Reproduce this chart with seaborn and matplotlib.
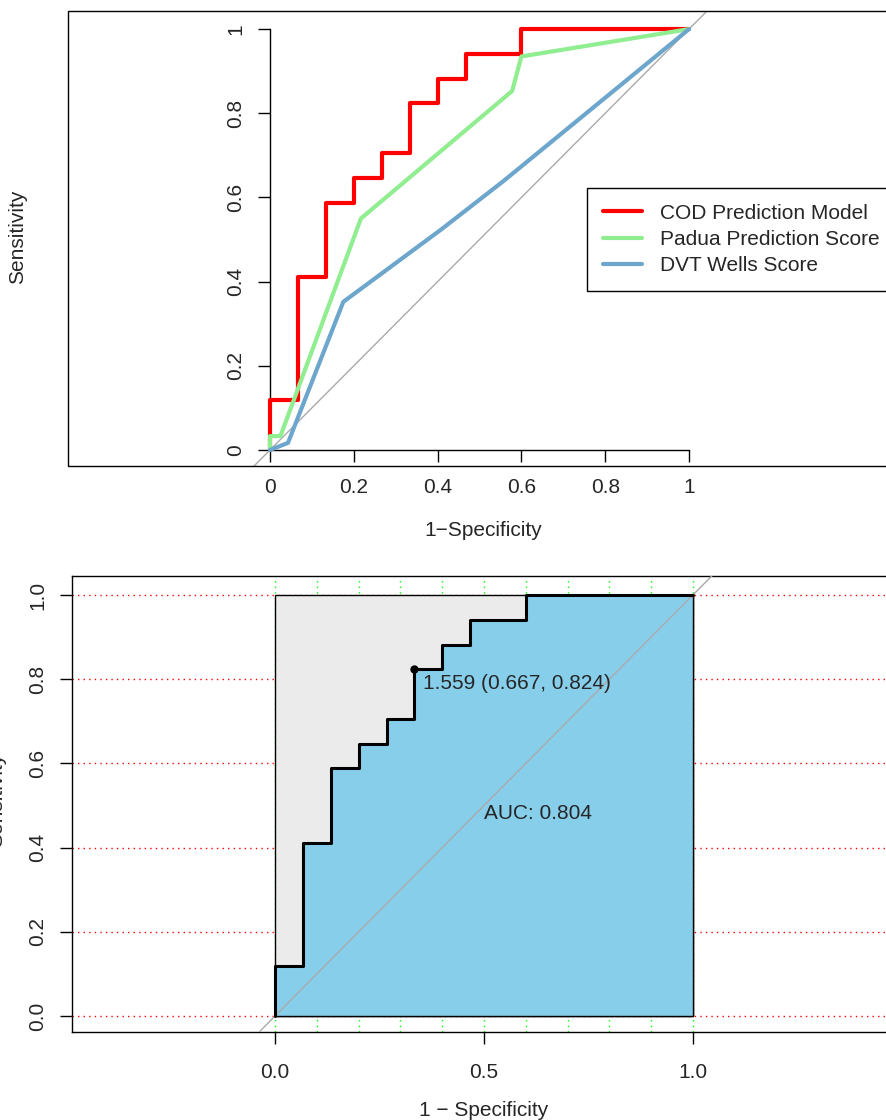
import numpy as np
import pandas as pd
import matplotlib
matplotlib.use("Agg")
import matplotlib.pyplot as plt
from matplotlib.patches import Rectangle
import seaborn as sns

# ROC coordinates: (1 - specificity, sensitivity)
cod_fpr = [0, 0, 0.067, 0.067, 0.133, 0.133, 0.2, 0.2, 0.267, 0.267, 0.333, 0.333,
           0.4, 0.4, 0.467, 0.467, 0.6, 0.6, 1]
cod_tpr = [0, 0.118, 0.118, 0.412, 0.412, 0.588, 0.588, 0.647, 0.647, 0.706, 0.706,
           0.824, 0.824, 0.882, 0.882, 0.941, 0.941, 1, 1]
padua_fpr = [0, 0, 0.025, 0.217, 0.578, 0.6, 1]
padua_tpr = [0, 0.033, 0.033, 0.55, 0.853, 0.935, 1]
wells_fpr = [0, 0.043, 0.175, 0.41, 0.556, 1]
wells_tpr = [0, 0.017, 0.352, 0.525, 0.638, 1]

models = ["COD Prediction Model", "Padua Prediction Score", "DVT Wells Score"]
colors = ["#FF0000", "#90EE90", "#6CA6CD"]

thr_x, thr_y = 0.333, 0.824
thr_label = "1.559 (0.667, 0.824)"
auc_label = "AUC: 0.804"

top_ticks = [0, 0.2, 0.4, 0.6, 0.8, 1]
top_ticklabels = ["0", "0.2", "0.4", "0.6", "0.8", "1"]
bot_yticks = [0, 0.2, 0.4, 0.6, 0.8, 1.0]
bot_yticklabels = ["0.0", "0.2", "0.4", "0.6", "0.8", "1.0"]
bot_xticks = [0, 0.5, 1.0]
bot_xticklabels = ["0.0", "0.5", "1.0"]
grid_h = [0, 0.2, 0.4, 0.6, 0.8, 1.0]
grid_v = [0, 0.1, 0.2, 0.3, 0.4, 0.5, 0.6, 0.7, 0.8, 0.9, 1.0]

df = pd.concat([
    pd.DataFrame({"fpr": cod_fpr, "tpr": cod_tpr, "model": models[0]}),
    pd.DataFrame({"fpr": padua_fpr, "tpr": padua_tpr, "model": models[1]}),
    pd.DataFrame({"fpr": wells_fpr, "tpr": wells_tpr, "model": models[2]}),
], ignore_index=True)

sns.set_theme(style="white")
plt.rcParams['font.family'] = ['Liberation Sans', 'DejaVu Sans']
FS = 15

W, H = 886, 1120
fig = plt.figure(figsize=(W / 100, H / 100), dpi=100)


def px_axes(l, t, r, b):
    return fig.add_axes([l / W, 1 - b / H, (r - l) / W, (b - t) / H])


# ---------- top: three ROC curves ----------
ax1 = px_axes(68, 11, 891, 466)
ax1.set_xlim(-0.482, 1.482)
ax1.set_ylim(-0.038, 1.043)
ax1.plot([-0.1, 1.1], [-0.1, 1.1], color="#AAAAAA", lw=1, zorder=1)
sns.lineplot(data=df, x="fpr", y="tpr", hue="model", palette=colors,
             hue_order=models, sort=False, estimator=None, lw=3, ax=ax1, zorder=3)
for s in ["top", "right"]:
    ax1.spines[s].set_visible(False)
ax1.spines["left"].set_position(("data", 0))
ax1.spines["bottom"].set_position(("data", 0))
ax1.spines["left"].set_bounds(0, 1)
ax1.spines["bottom"].set_bounds(0, 1)
for s in ["left", "bottom"]:
    ax1.spines[s].set_color("black")
    ax1.spines[s].set_linewidth(1)
ax1.add_patch(Rectangle((0, 0), 1, 1, transform=ax1.transAxes, fill=False,
                        ec="black", lw=1, clip_on=False, zorder=5))
ax1.set_xticks(top_ticks, top_ticklabels)
ax1.set_yticks(top_ticks, top_ticklabels)
ax1.tick_params(axis="both", direction="out", length=8.5, width=1, color="black",
                labelsize=FS, left=True, bottom=True)
ax1.tick_params(axis="x", pad=12)
ax1.tick_params(axis="y", pad=9.5)
for lab in ax1.get_yticklabels():
    lab.set_rotation(90)
    lab.set_va("center")
ax1.set_xlabel("")
ax1.set_ylabel("")
h, l = ax1.get_legend_handles_labels()
ax1.legend(h, l, loc="upper left", bbox_to_anchor=(587 / W, 1 - 188 / H),
           bbox_transform=fig.transFigure, borderaxespad=0, frameon=True,
           fancybox=False, edgecolor="black", framealpha=1, fontsize=FS,
           handlelength=1.9, handletextpad=0.85, borderpad=0.75, labelspacing=0.35)
ax1.get_legend().get_frame().set_linewidth(1)
fig.text(18 / W, 1 - 237 / H, "Sensitivity", rotation=90, ha="center", va="center", fontsize=FS)
fig.text(483 / W, 1 - 530 / H, "1\u2212Specificity", ha="center", va="center", fontsize=FS)

# ---------- bottom: COD ROC with AUC ----------
ax2 = px_axes(72, 576, 896, 1032)
ax2.set_xlim(-0.486, 1.486)
ax2.set_ylim(-0.038, 1.045)
for g in grid_h:
    ax2.axhline(g, color="red", lw=1, ls=(0, (1, 3)), zorder=0)
for g in grid_v:
    ax2.axvline(g, color="#00FF00", lw=1, ls=(0, (1, 3)), zorder=0)
ax2.add_patch(Rectangle((0, 0), 1, 1, fc="#EBEBEB", ec="black", lw=1, zorder=1))
ax2.fill_between(cod_fpr, cod_tpr, 0, fc="#87CEEB", ec="black", lw=1, zorder=2)
ax2.plot([-0.1, 1.1], [-0.1, 1.1], color="#AAAAAA", lw=1, zorder=3)
sns.lineplot(x=cod_fpr, y=cod_tpr, sort=False, estimator=None, color="black",
             lw=2.2, ax=ax2, zorder=4)
ax2.plot([thr_x], [thr_y], "o", color="black", ms=5, zorder=5)
ax2.text(thr_x + 0.022, thr_y - 0.034, thr_label, ha="left", va="center", fontsize=FS, zorder=6)
ax2.text(0.5, 0.482, auc_label, ha="left", va="center", fontsize=FS, zorder=6)
for s in ax2.spines.values():
    s.set_visible(True)
    s.set_color("black")
    s.set_linewidth(1)
ax2.set_xticks(bot_xticks, bot_xticklabels)
ax2.set_yticks(bot_yticks, bot_yticklabels)
ax2.tick_params(axis="both", direction="out", length=8.5, width=1, color="black",
                labelsize=FS, left=True, bottom=True)
ax2.tick_params(axis="x", pad=14)
ax2.tick_params(axis="y", pad=9.5)
for lab in ax2.get_yticklabels():
    lab.set_rotation(90)
    lab.set_va("center")
ax2.set_xlabel("")
ax2.set_ylabel("")
fig.text(-3 / W, 1 - 800 / H, "Sensitivity", rotation=90, ha="center", va="center", fontsize=FS)
fig.text(484 / W, 1 - 1110 / H, "1 \u2212 Specificity", ha="center", va="center", fontsize=FS)

fig.savefig("out.png", dpi=100)
